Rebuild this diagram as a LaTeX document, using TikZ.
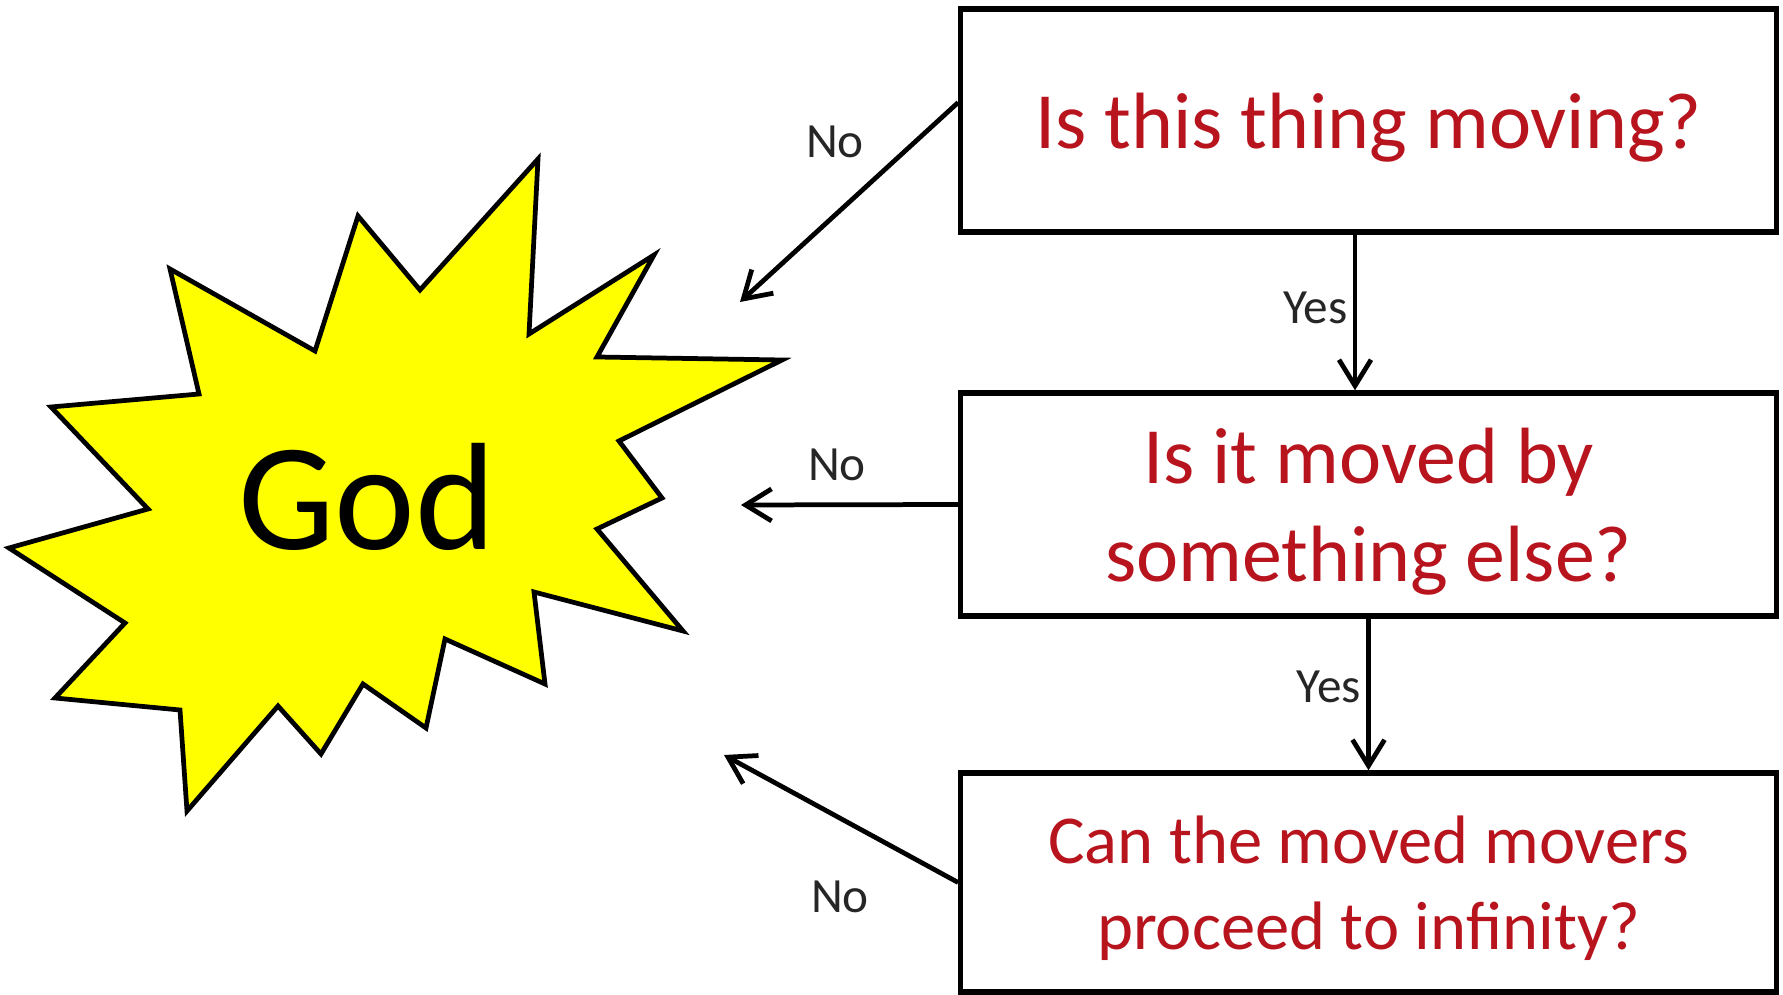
\documentclass[tikz,border=0pt]{standalone}
\usepackage{fontspec}
\setmainfont{Carlito}
\usetikzlibrary{arrows.meta}

\begin{document}
\begin{tikzpicture}[x=0.01cm,y=-0.01cm,
  question/.style={draw,line width=1.5pt,minimum width=8.15cm,minimum height=2.23cm,
    align=center,text=questionred,inner sep=0pt,text depth=0pt},
  answer/.style={font=\fontsize{14}{17}\selectfont,text=answergray,inner sep=1.5pt},
  flow/.style={line width=1.35pt,-{Straight Barb[length=2.6mm,width=3.2mm]}}]
  \definecolor{questionred}{HTML}{B8141E}
  \definecolor{answergray}{HTML}{262626}
  \definecolor{godyellow}{HTML}{FFFF00}

  \useasboundingbox (0,0) rectangle (1783,995);

  % God
  \filldraw[fill=godyellow,line width=1.35pt]
    (538,159) -- (529,334) -- (654,255) -- (597,357) -- (782,360) -- (619,441)
    -- (662,498) -- (597,529) -- (683,631) -- (534,592) -- (545,684) -- (445,639)
    -- (426,728) -- (363,684) -- (321,754) -- (278,706) -- (187,811) -- (180,710)
    -- (55,698) -- (125,623) -- (9,548) -- (148,509) -- (51,407) -- (199,394)
    -- (170,269) -- (315,351) -- (358,216) -- (420,290) -- cycle;
  \node[font=\fontsize{43.5}{50}\selectfont] (god) at (367,497) {God};

  % questions
  \node[question,font=\fontsize{22.7}{27.6}\selectfont] (moving) at (1368.5,120.5)
    {Is this thing moving?};
  \node[question,font=\fontsize{22.7}{27.9}\selectfont] (moved) at (1368.5,504.5)
    {Is it moved by\\something else?};
  \node[question,minimum height=2.19cm,font=\fontsize{19.5}{24.5}\selectfont] (infinity)
    at (1368.5,882.5) {Can the moved movers\\proceed to infinity?};

  % answers
  \coordinate (godtipa) at (740,302);
  \coordinate (godtipb) at (741,505);
  \coordinate (godtipc) at (724,755);
  \draw[flow] ([yshift=0.18cm]moving.west) -- (godtipa);
  \draw[flow] (moved.west) -- (godtipb);
  \draw[flow] (infinity.west) -- (godtipc);
  \draw[flow] ([xshift=-0.135cm]moving.south) -- ([xshift=-0.135cm]moved.north)
    node[answer,pos=0.47,left] (yesa) {Yes};
  \draw[flow] (moved.south) -- (infinity.north)
    node[answer,pos=0.45,left] (yesb) {Yes};
  \node[answer] (noa) at (835,142) {No};
  \node[answer] (nob) at (837,465) {No};
  \node[answer] (noc) at (840,897) {No};
\end{tikzpicture}
\end{document}
